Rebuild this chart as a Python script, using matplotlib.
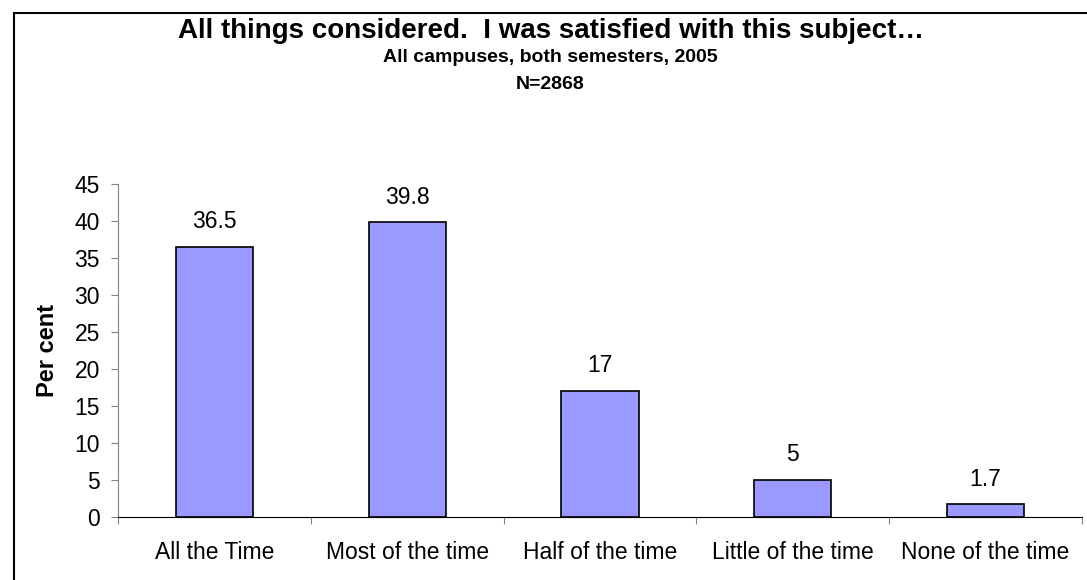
import matplotlib
matplotlib.use("Agg")
import matplotlib.pyplot as plt
from matplotlib.patches import Rectangle

categories = ["All the Time", "Most of the time", "Half of the time", "Little of the time", "None of the time"]
values = [36.5, 39.8, 17, 5, 1.7]
value_labels = ["36.5", "39.8", "17", "5", "1.7"]
yticks = [0, 5, 10, 15, 20, 25, 30, 35, 40, 45]

plt.rcParams['font.family'] = ['Liberation Sans', 'DejaVu Sans']

W, H = 1087, 580
fig = plt.figure(figsize=(W / 100, H / 100), dpi=100)
ax = fig.add_axes([118 / W, 1 - 517 / H, (1082 - 118) / W, (517 - 184) / H])

x = list(range(len(categories)))
ax.bar(x, values, width=0.4, color="#9999FF", edgecolor="black", linewidth=1.2, zorder=3)
for xi, v, lab in zip(x, values, value_labels):
    ax.annotate(lab, (xi, v), xytext=(0, 13.5), textcoords="offset points",
                ha="center", va="baseline", fontsize=16.5)

ax.set_xlim(-0.5, len(categories) - 0.5)
ax.set_ylim(0, 45)
ax.set_yticks(yticks)
ax.set_yticklabels([str(t) for t in yticks], fontsize=16.5)
ax.tick_params(axis="y", length=5, width=0.8, color="#808080", pad=8)

ax.set_xticks([i - 0.5 for i in range(len(categories) + 1)], minor=False)
ax.set_xticklabels([""] * (len(categories) + 1))
ax.set_xticks(x, minor=True)
ax.set_xticklabels(categories, minor=True, fontsize=16.5)
ax.tick_params(axis="x", which="major", length=5, width=0.8, color="#808080")
ax.tick_params(axis="x", which="minor", length=0, pad=17)

ax.spines["top"].set_visible(False)
ax.spines["right"].set_visible(False)
ax.spines["left"].set_color("#808080")
ax.spines["bottom"].set_color("black")

fig.text(48 / W, 1 - 350 / H, "Per cent", rotation=90, ha="center", va="center",
         fontsize=17, fontweight="bold")

cx = 0.5 * (14 + W) / W
fig.text(cx, 1 - 31 / H, "All things considered.  I was satisfied with this subject\u2026",
         ha="center", va="center", fontsize=20, fontweight="bold")
fig.text(cx, 1 - 58 / H, "All campuses, both semesters, 2005",
         ha="center", va="center", fontsize=14, fontweight="bold")
fig.text(cx, 1 - 84 / H, "N=2868",
         ha="center", va="center", fontsize=14, fontweight="bold")

fig.patches.append(Rectangle((14 / W, -0.1), 1.2, 1.1 - 13 / H, transform=fig.transFigure,
                             fill=False, edgecolor="black", linewidth=1.5))

fig.savefig("out.png", dpi=100)
